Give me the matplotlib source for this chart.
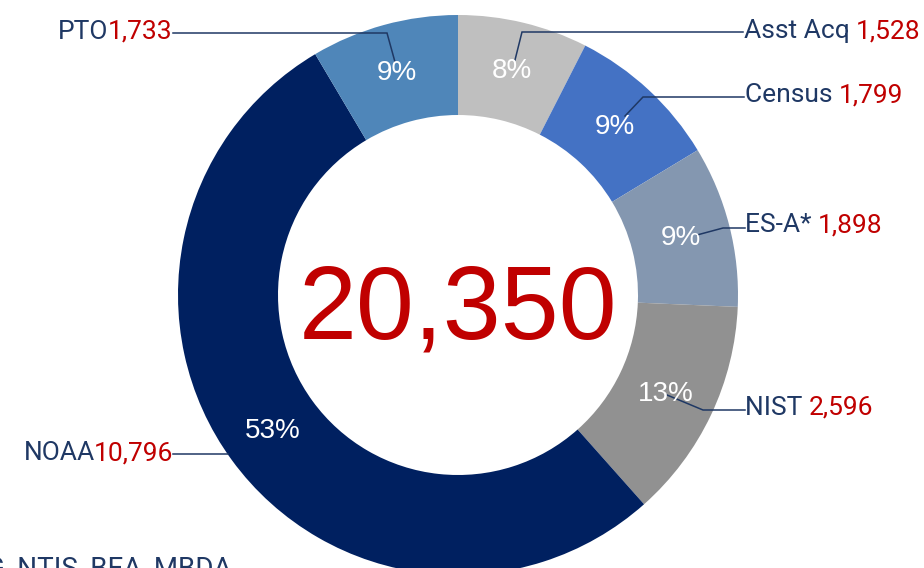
import matplotlib
matplotlib.use("Agg")
import matplotlib.pyplot as plt

# datos del grafico (sentido horario desde arriba)
categories = ["Asst Acq", "Census", "ES-A*", "NIST", "NOAA", "PTO"]
values = [1528, 1799, 1898, 2596, 10796, 1733]
value_labels = ["1,528", "1,799", "1,898", "2,596", "10,796", "1,733"]
total_label = "20,350"
footnote = "G, NTIS, BEA, MBDA"

colors = ["#BFBFBF", "#4472C4", "#8497B0", "#919191", "#002060", "#4F86B9"]
navy = "#1F3864"
red = "#C00000"

# geometria en pixeles (y hacia abajo)
W, H = 924, 568
cx, cy, r_out, ring = 458, 295, 280, 100

# lineas guia y posicion de etiquetas (x, baseline, lado)
leaders = {
    "Asst Acq": [(515, 60), (522, 32), (743, 32)],
    "Census": [(625, 116), (643, 97), (744, 97)],
    "ES-A*": [(697, 235), (723, 228), (745, 228)],
    "NIST": [(667, 395), (703, 410), (745, 410)],
    "NOAA": [(228, 454), (173, 454)],
    "PTO": [(395, 62), (387, 33), (173, 33)],
}
label_pos = {
    "Asst Acq": (744, 38, "left"),
    "Census": (745, 102, "left"),
    "ES-A*": (745, 232, "left"),
    "NIST": (745, 415, "left"),
    "NOAA": (173, 460, "right"),
    "PTO": (172, 39, "right"),
}

fig = plt.figure(figsize=(W / 100, H / 100), dpi=100)
ax = fig.add_axes([0, 0, 1, 1])

wedges, texts, autotexts = ax.pie(
    values, colors=colors, center=(cx, cy), radius=r_out,
    startangle=-90, counterclock=True,
    wedgeprops=dict(width=ring, linewidth=0),
    autopct="%.0f%%", pctdistance=(r_out - ring / 2) / r_out,
    textprops=dict(color="white", fontsize=20, family="Liberation Sans"),
)

ax.set_xlim(0, W)
ax.set_ylim(H, 0)
ax.set_aspect("equal")
ax.axis("off")

# numero total en el centro
ax.text(cx, cy + 17, total_label, color=red, fontsize=75,
        family="Liberation Sans", ha="center", va="center")

renderer = fig.canvas.get_renderer()
lab_font = dict(fontsize=19, family="Roboto", va="baseline")

for cat, val in zip(categories, value_labels):
    pts = leaders[cat]
    ax.plot([p[0] for p in pts], [p[1] for p in pts], color=navy, lw=1.1,
            solid_joinstyle="miter")
    x, y, side = label_pos[cat]
    if side == "left":
        t = ax.text(x, y, cat + " ", color=navy, ha="left", **lab_font)
        w = t.get_window_extent(renderer).width
        ax.text(x + w, y, val, color=red, ha="left", **lab_font)
    else:
        t = ax.text(x, y, val, color=red, ha="right", **lab_font)
        w = t.get_window_extent(renderer).width
        ax.text(x - w + 1, y, cat, color=navy, ha="right", **lab_font)

# nota al pie cortada en el borde inferior (como en el original)
ax.text(232, 555, footnote, color=navy, fontsize=20, family="Roboto",
        ha="right", va="top")

fig.savefig("out.png", dpi=100)
